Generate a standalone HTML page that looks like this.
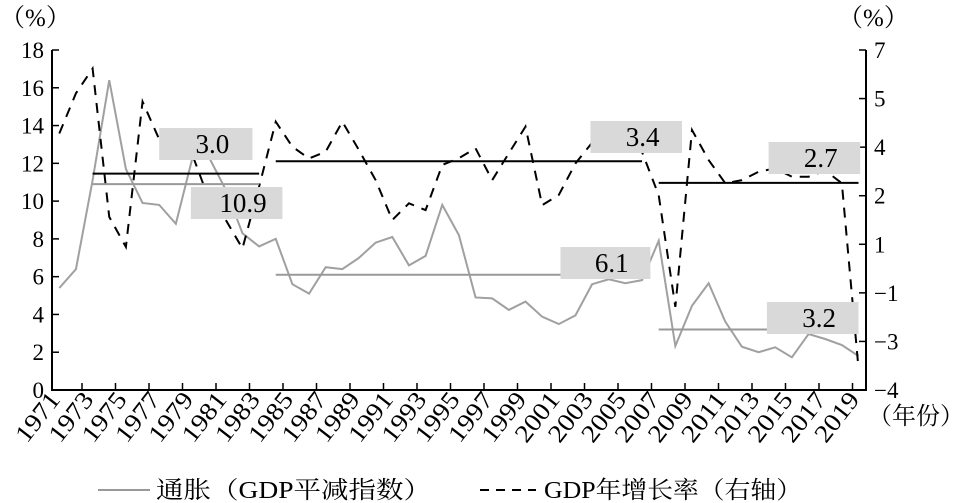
<!DOCTYPE html>
<html><head><meta charset="utf-8"><style>
body{margin:0;background:#fff;}
svg{display:block;font-family:"Liberation Serif","Noto Serif CJK SC",serif;}
</style></head><body>
<svg id="chart" width="969" height="503" viewBox="0 0 969 503" xmlns="http://www.w3.org/2000/svg">
<g id="axes"></g>
<g id="marks"></g>
<g id="labels"></g>
<text x="0" y="26" font-size="25">（%）</text>
<text x="838" y="26" font-size="25">（%）</text>
<text x="868" y="424" font-size="24" textLength="96" lengthAdjust="spacingAndGlyphs">（年份）</text>
<g>
<line x1="98" y1="490" x2="150" y2="490" stroke="#999" stroke-width="2"/>
<text x="156" y="498" font-size="24" textLength="275" lengthAdjust="spacingAndGlyphs">通胀（GDP平减指数）</text>
<line x1="480" y1="490" x2="536" y2="490" stroke="#000" stroke-width="2" stroke-dasharray="9,7"/>
<text x="544" y="498" font-size="24" textLength="258" lengthAdjust="spacingAndGlyphs">GDP年增长率（右轴）</text>
</g>
</svg>
<script>
const years = [];
for (let y = 1971; y <= 2019; y++) years.push(y);
const inflation = [5.4,6.4,11.1,16.4,11.7,9.9,9.8,8.8,12.3,12.3,10.6,8.3,7.6,8.0,5.6,5.1,6.5,6.4,7.0,7.8,8.1,6.6,7.1,9.8,8.2,4.9,4.85,4.24,4.68,3.88,3.49,3.95,5.6,5.86,5.65,5.82,7.9,2.33,4.46,5.65,3.62,2.29,2.0,2.26,1.73,2.96,2.7,2.38,1.8];
const gdpGrowth = [4.3,5.6,6.4,1.6,0.63,5.33,4.11,4.11,3.6,2.15,1.5,0.58,2.58,4.68,3.87,3.49,3.71,4.68,3.76,2.79,1.5,2.04,1.82,3.28,3.5,3.82,2.79,3.66,4.52,1.98,2.31,3.33,4.0,4.1,3.9,3.7,2.3,-1.31,4.41,3.44,2.69,2.79,3.06,3.17,2.9,2.9,3.1,2.69,-3.3];
const leftTicks = [0,2,4,6,8,10,12,14,16,18];
const rightTickLabels = ["7","5","4","2","1","−1","−3","−4"];
const xTickLabels = [1971,1973,1975,1977,1979,1981,1983,1985,1987,1989,1991,1993,1995,1997,1999,2001,2003,2005,2007,2009,2011,2013,2015,2017,2019];
const inflationMeans = [[1973,1983,10.9],[1984,2006,6.1],[2007,2019,3.2]];
const gdpMeans = [[1973,1983,3.0],[1984,2006,3.4],[2007,2019,2.7]];
const inflationLabels = [[1978.9,1984.4,187,10.9],[2001.1,2006.5,247,6.1],[2013.5,2019,302,3.2]];
const gdpLabels = [[1977,1982.6,128,3.0],[2002.9,2008.4,121,3.4],[2013.6,2019.1,142,2.7]];

const NS = "http://www.w3.org/2000/svg";
const X0 = 52, X1 = 866, Y0 = 390, Y1 = 50;
const xs = yr => 59.3 + (yr - 1971) * 16.65;
const yL = v => Y0 - (v / 18) * (Y0 - Y1);
const yR = v => Y0 - ((v + 4) / 11) * (Y0 - Y1);
function mk(tag, attrs, parent) {
  const e = document.createElementNS(NS, tag);
  for (const k in attrs) e.setAttribute(k, attrs[k]);
  parent.appendChild(e);
  return e;
}
const axes = document.getElementById('axes');
const marks = document.getElementById('marks');
const labels = document.getElementById('labels');

let e = mk('path', {d:`M${X0},${Y1}V${Y0}H${X1}V${Y1}`, fill:'none', stroke:'#000', 'stroke-width':2}, axes);



leftTicks.forEach(t => {
  const y = yL(t);
  const tk = mk('line', {x1:X0, x2:X0+7, y1:y, y2:y, stroke:'#000', 'stroke-width':1.5}, axes);
  
  
  const tx = mk('text', {x:X0-8, y:y+8, 'font-size':23, 'text-anchor':'end'}, axes);
  tx.textContent = t;
  
  
});
rightTickLabels.forEach((t, i) => {
  const y = Y1 + i * (Y0 - Y1) / 7;
  const tk = mk('line', {x1:X1-7, x2:X1, y1:y, y2:y, stroke:'#000', 'stroke-width':1.5}, axes);
  
  
  const tx = mk('text', {x:X1+8, y:y+8, 'font-size':23}, axes);
  tx.textContent = t;
  
  
});
for (let i = 0; i < 24; i++) {
  const x = 82 + i * 33.5;
  const tk = mk('line', {x1:x, x2:x, y1:Y0, y2:Y0-7, stroke:'#000', 'stroke-width':1.5}, axes);
  
  
}
xTickLabels.forEach(yr => {
  const x = xs(yr) + 2, y = 400;
  const tx = mk('text', {x:x, y:y, 'font-size':25, 'text-anchor':'end', transform:`rotate(-52 ${x} ${y})`, textLength:56, lengthAdjust:'spacingAndGlyphs'}, axes);
  tx.textContent = yr;
  
  
});

const infPath = mk('polyline', {points: years.map((yr,i)=>`${xs(yr)},${yL(inflation[i])}`).join(' '), fill:'none', stroke:'#a0a0a0', 'stroke-width':2}, marks);


const gdpPath = mk('polyline', {points: years.map((yr,i)=>`${xs(yr)},${yR(gdpGrowth[i])}`).join(' '), fill:'none', stroke:'#000', 'stroke-width':2, 'stroke-dasharray':'10,8'}, marks);



inflationMeans.forEach(m => {
  const l = mk('line', {x1:xs(m[0]), x2:xs(m[1]), y1:yL(m[2]), y2:yL(m[2]), stroke:'#999', 'stroke-width':2}, marks);
  
  
});
gdpMeans.forEach(m => {
  const l = mk('line', {x1:xs(m[0]), x2:xs(m[1]), y1:yR(m[2]), y2:yR(m[2]), stroke:'#000', 'stroke-width':2}, marks);
  
  
});
inflationLabels.concat(gdpLabels).forEach(b => {
  const x = xs(b[0]), w = xs(b[1]) - xs(b[0]);
  const r = mk('rect', {x:x, y:b[2], width:w, height:32, fill:'#d9d9d9'}, labels);
  
  
  const t = mk('text', {x:x + w*0.57, y:b[2]+25, 'font-size':27, 'text-anchor':'middle'}, labels);
  t.textContent = b[3].toFixed(1);
  
  
});
</script>
</body></html>
